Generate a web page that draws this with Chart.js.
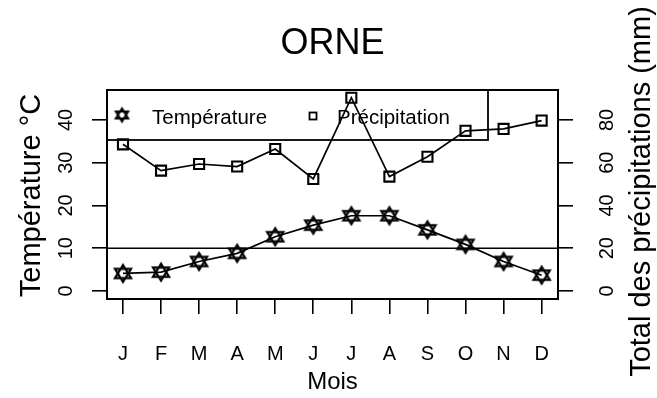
<!DOCTYPE html>
<html>
<head>
<meta charset="utf-8">
<script src="https://cdn.jsdelivr.net/npm/chart.js@4"></script>
<style>
  html, body { margin: 0; padding: 0; background: #fff; }
  #wrap { width: 657px; height: 398px; }
</style>
</head>
<body>
<div id="wrap"><canvas id="climat" width="657" height="398"></canvas></div>
<script>
// Monthly means for the Orne station
const months = ['J', 'F', 'M', 'A', 'M', 'J', 'J', 'A', 'S', 'O', 'N', 'D'];
const temperature = [4.1, 4.4, 6.9, 8.8, 12.7, 15.4, 17.6, 17.6, 14.3, 10.9, 6.9, 3.7];
const precipitation = [68.6, 56.3, 59.4, 58.2, 66.4, 52.4, 90.4, 53.5, 62.8, 74.9, 75.8, 79.7];
const tempTicks = [0, 10, 20, 30, 40];
const precipTicks = [0, 20, 40, 60, 80];
const tempLimit = 10; // threshold line

const FONT = '"Liberation Sans", Arial, sans-serif';

// star of David marker (two triangles)
function makeStar(r, lw) {
    const c = document.createElement('canvas');
    const s = Math.ceil(r * 2 + lw * 2 + 2);
    c.width = s; c.height = s;
    const g = c.getContext('2d');
    const m = s / 2, hw = r * 0.95, hh = r * 0.55;
    g.strokeStyle = '#000';
    g.lineWidth = lw;
    g.lineJoin = 'miter';
    g.beginPath();
    g.moveTo(m, m - r); g.lineTo(m - hw, m + hh); g.lineTo(m + hw, m + hh); g.closePath();
    g.moveTo(m, m + r); g.lineTo(m - hw, m - hh); g.lineTo(m + hw, m - hh); g.closePath();
    g.stroke();
    return c;
}
const starBig = makeStar(8.5, 2.2);
const starSmall = makeStar(6.5, 2);

const toPoints = arr => arr.map((v, i) => ({ x: i + 1, y: v }));

function rotText(ctx, txt, x, y, font) {
    ctx.save();
    ctx.translate(x, y);
    ctx.rotate(-Math.PI / 2);
    ctx.font = font;
    ctx.textAlign = 'center';
    ctx.textBaseline = 'alphabetic';
    ctx.fillText(txt, 0, 0);
    ctx.restore();
}

const decor = {
    id: 'decor',
    beforeDatasetsDraw(chart) {
        const { ctx, chartArea: a } = chart;
        // legend box
        ctx.save();
        ctx.strokeStyle = '#000';
        ctx.lineWidth = 1.8;
        ctx.strokeRect(a.left, a.top, 381, 50);
        ctx.drawImage(starSmall, 122 - starSmall.width / 2, 115 - starSmall.height / 2);
        ctx.lineWidth = 1.8;
        ctx.strokeRect(309.5, 112.5, 7, 7);
        ctx.fillStyle = '#000';
        ctx.font = '20.5px ' + FONT;
        ctx.textBaseline = 'alphabetic';
        ctx.fillText('Température', 152, 124);
        ctx.fillText('Précipitation', 337, 124);
        // threshold line
        const y = chart.scales.y.getPixelForValue(tempLimit);
        ctx.lineWidth = 1.6;
        ctx.beginPath();
        ctx.moveTo(a.left, y); ctx.lineTo(a.right, y);
        ctx.stroke();
        ctx.restore();
    },
    afterDraw(chart) {
        const { ctx, chartArea: a, scales } = chart;
        ctx.save();
        ctx.strokeStyle = '#000';
        ctx.lineWidth = 2;
        ctx.strokeRect(a.left, a.top, a.right - a.left, a.bottom - a.top);
        ctx.fillStyle = '#000';

        // title
        ctx.font = '36px ' + FONT;
        ctx.textAlign = 'center';
        ctx.textBaseline = 'alphabetic';
        ctx.fillText('ORNE', (a.left + a.right) / 2, a.top - 36);

        // month labels
        ctx.font = '20px ' + FONT;
        scales.x.ticks.forEach(t => {
            ctx.fillText(months[t.value - 1], scales.x.getPixelForValue(t.value), a.bottom + 61);
        });
        ctx.font = '24px ' + FONT;
        ctx.fillText('Mois', (a.left + a.right) / 2, a.bottom + 90);

        // left axis
        scales.y.ticks.forEach(t => {
            rotText(ctx, String(t.value), a.left - 35, scales.y.getPixelForValue(t.value), '20px ' + FONT);
        });
        rotText(ctx, 'Température °C', a.left - 67, (a.top + a.bottom) / 2 + 1, '29px ' + FONT);

        // right axis
        scales.y2.ticks.forEach(t => {
            rotText(ctx, String(t.value), a.right + 55, scales.y2.getPixelForValue(t.value), '20px ' + FONT);
        });
        rotText(ctx, 'Total des précipitations (mm)', a.right + 92, (a.top + a.bottom) / 2 - 3, '29px ' + FONT);
        ctx.restore();
    }
};

const tickGrid = { drawOnChartArea: false, drawTicks: true, tickLength: 15, color: '#000', lineWidth: 1.6 };

new Chart(document.getElementById('climat'), {
    type: 'line',
    data: {
        datasets: [
            {
                label: 'Température',
                data: toPoints(temperature),
                yAxisID: 'y',
                borderColor: '#000',
                borderWidth: 1.7,
                pointStyle: starBig,
                pointRadius: 8,
                tension: 0
            },
            {
                label: 'Précipitation',
                data: toPoints(precipitation),
                yAxisID: 'y2',
                borderColor: '#000',
                borderWidth: 1.7,
                pointStyle: 'rect',
                pointRadius: 7.1,
                pointBorderWidth: 2.1,
                pointBorderColor: '#000',
                pointBackgroundColor: 'rgba(0,0,0,0)',
                tension: 0
            }
        ]
    },
    options: {
        responsive: false,
        animation: false,
        events: [],
        layout: { padding: { top: 90, left: 0, right: 0, bottom: 0 } },
        plugins: {
            legend: { display: false },
            title: { display: false },
            tooltip: { enabled: false }
        },
        scales: {
            x: {
                type: 'linear',
                position: 'bottom',
                min: 0.58,
                max: 12.43,
                afterBuildTicks: s => { s.ticks = months.map((m, i) => ({ value: i + 1 })); },
                afterFit: s => { s.height = 99; },
                ticks: { display: false },
                grid: tickGrid,
                border: { display: false }
            },
            y: {
                position: 'left',
                min: -1.87,
                max: 47,
                afterBuildTicks: s => { s.ticks = tempTicks.map(v => ({ value: v })); },
                afterFit: s => { s.width = 107; },
                ticks: { display: false },
                grid: tickGrid,
                border: { display: false }
            },
            y2: {
                position: 'right',
                min: -3.74,
                max: 94,
                afterBuildTicks: s => { s.ticks = precipTicks.map(v => ({ value: v })); },
                afterFit: s => { s.width = 99; },
                ticks: { display: false },
                grid: tickGrid,
                border: { display: false }
            }
        }
    },
    plugins: [decor]
});
</script>
</body>
</html>
